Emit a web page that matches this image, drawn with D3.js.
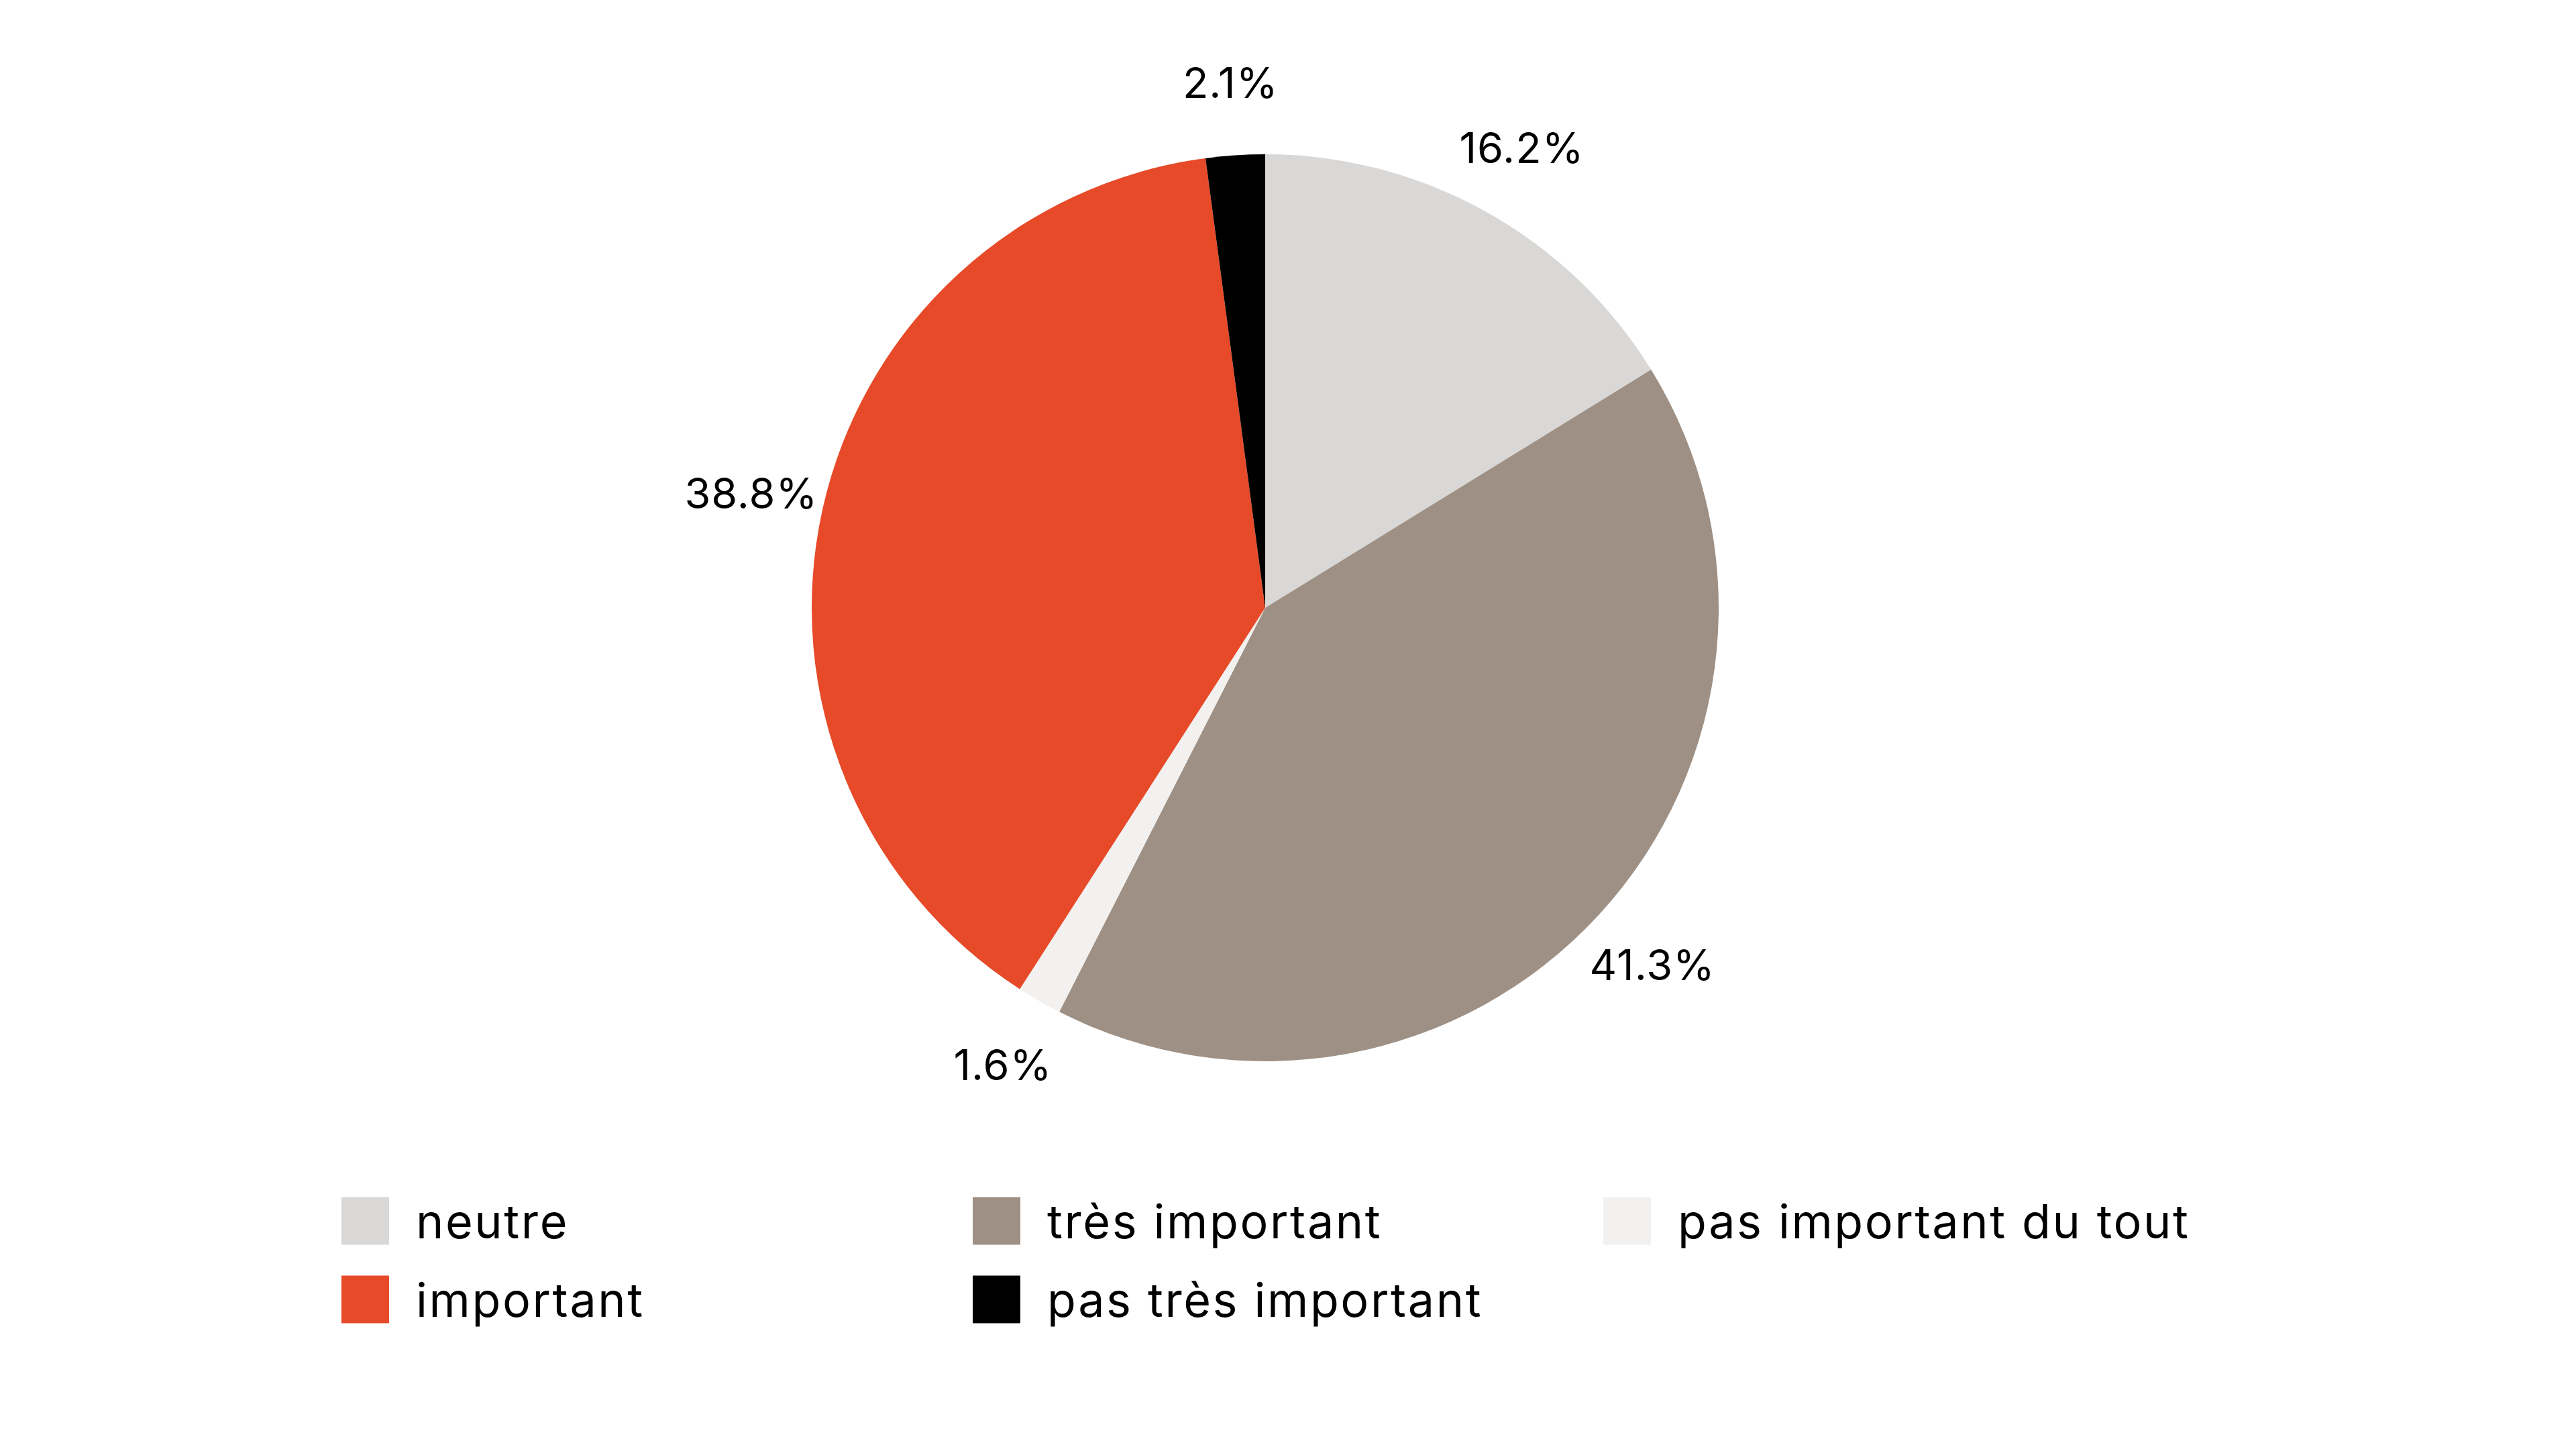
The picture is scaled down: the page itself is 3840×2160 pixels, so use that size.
<!DOCTYPE html>
<html>
<head>
<meta charset="utf-8">
<script src="https://cdn.jsdelivr.net/npm/d3@7"></script>
<style>
  html, body { margin: 0; padding: 0; background: #fff; }
  svg { display: block; }
  text { font-family: "Inter", "Lato", sans-serif; fill: #000; }
</style>
</head>
<body>
<svg id="chart" width="3840" height="2160"></svg>
<script>
const categories = ["neutre", "très important", "pas important du tout", "important", "pas très important"];
const values = [16.2, 41.3, 1.6, 38.8, 2.1];
const colors = ["#d9d8d6", "#9e9084", "#f2f1ef", "#e64a29", "#000000"];
const valueLabels = ["16.2%", "41.3%", "1.6%", "38.8%", "2.1%"];

const svg = d3.select("#chart");
const cx = 1886, cy = 906, R = 676, labelR = 785;

const data = categories.map((c, i) => ({ cat: c, value: values[i], color: colors[i], label: valueLabels[i] }));

const pie = d3.pie().value(d => d.value).sort(null);
const arcs = pie(data);
const arc = d3.arc().innerRadius(0).outerRadius(R);
const labelArc = d3.arc().innerRadius(labelR).outerRadius(labelR);

const g = svg.append("g").attr("transform", `translate(${cx},${cy})`);
g.selectAll("path").data(arcs).join("path")
  .attr("d", arc)
  .attr("fill", d => d.data.color);

g.selectAll("text.lbl").data(arcs).join("text")
  .attr("class", "lbl")
  .attr("transform", d => `translate(${labelArc.centroid(d)})`)
  .attr("text-anchor", "middle")
  .attr("dominant-baseline", "central")
  .style("font-size", "63px")
  .style("letter-spacing", "1px")
  .text(d => d.data.label);

// legend
const colX = d3.scaleOrdinal().domain([0, 1, 2]).range([509, 1450, 2390]);
const rowY = d3.scaleOrdinal().domain([0, 1]).range([1820, 1937]);
const sq = 71;
const leg = svg.append("g").selectAll("g").data(data).join("g")
  .attr("transform", (d, i) => `translate(${colX(i % 3)},${rowY(Math.floor(i / 3))})`);
leg.append("rect")
  .attr("x", 0).attr("y", -sq / 2).attr("width", sq).attr("height", sq)
  .attr("fill", d => d.color);
leg.append("text")
  .attr("x", 111).attr("y", 0)
  .attr("dominant-baseline", "central")
  .style("font-size", "70px")
  .style("letter-spacing", "2.6px")
  .text(d => d.cat);
</script>
</body>
</html>
